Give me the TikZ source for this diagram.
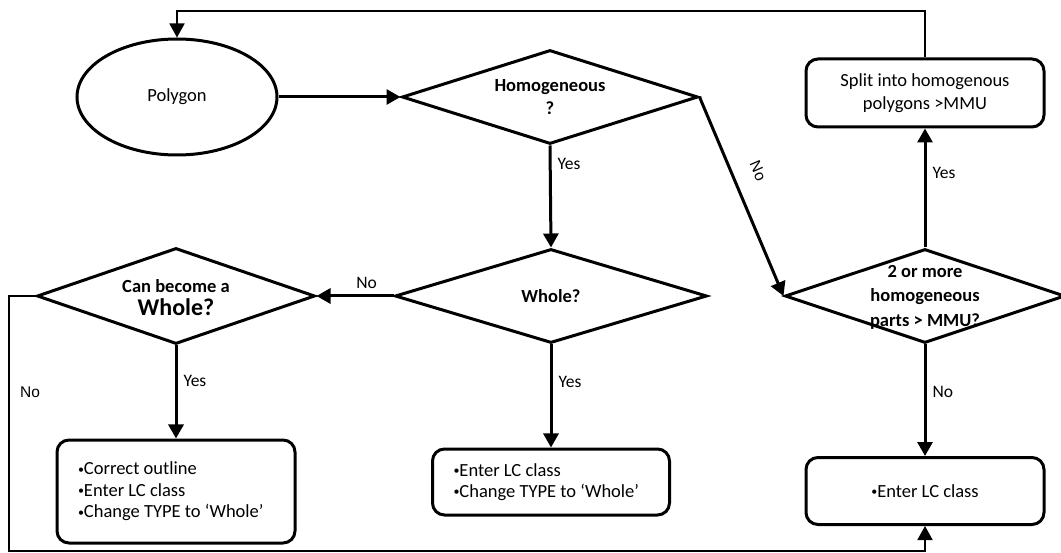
\documentclass[tikz,border=0pt]{standalone}
\usepackage{fontspec}
\setmainfont{Carlito}
\newfontfamily\arialf{Liberation Sans}
\usetikzlibrary{shapes.geometric,arrows.meta}
\newcommand\bul{\raisebox{0.2ex}{\fontsize{12}{12}\selectfont•}}
\begin{document}
\begin{tikzpicture}[x=1pt,y=-1pt,
  thickln/.style={line width=3pt},
  thinln/.style={line width=1.8pt},
  arr/.style={-{Triangle[length=14pt,width=15pt]}},
  dia/.style={draw, diamond, line width=3pt, inner sep=0pt},
  rbox/.style={draw, rectangle, rounded corners=12pt, line width=3pt, inner sep=0pt},
  lbl/.style={font=\fontsize{17.5}{20}\selectfont, inner sep=0pt},
  nolbl/.style={font=\arialf\fontsize{15.5}{18}\selectfont, inner sep=0pt},
  qtext/.style={font=\bfseries\fontsize{18.5}{23}\selectfont, align=center},
  btext/.style={font=\fontsize{18.5}{21.5}\selectfont, align=flush left},
]
\useasboundingbox (0,0) rectangle (1061,553);

% nodes
\node[draw, ellipse, line width=3pt, minimum width=200pt, minimum height=116pt, inner sep=0pt,
      font=\fontsize{18.5}{22}\selectfont] (poly) at (177,97) {Polygon};
\node[dia, minimum width=296pt, minimum height=94pt,
      label={[qtext]center:{Homogeneous\\?}}] (hom) at (550,97) {};
\node[dia, minimum width=312pt, minimum height=94pt,
      label={[qtext]center:{Whole?}}] (whole) at (551,296) {};
\node[dia, minimum width=278pt, minimum height=96pt,
      label={[qtext, yshift=-2pt]center:{Can become a\\{\fontsize{24}{26}\selectfont Whole?}}}] (can) at (176,296) {};
\node[dia, minimum width=280pt, minimum height=94pt,
      label={[qtext, font=\bfseries\fontsize{18.5}{24.5}\selectfont, yshift=-1pt]center:{2 or more\\homogeneous\\parts > MMU?}}] (two) at (925,296) {};
\node[rbox, minimum width=238pt, minimum height=68pt, align=center,
      font=\fontsize{18.5}{23}\selectfont] (split) at (925,93) {Split into homogenous\\polygons >MMU};
\node[rbox, minimum width=238pt, minimum height=67pt, btext] (enterR) at (925,491) {\bul Enter LC class};
\node[rbox, minimum width=238pt, minimum height=103pt, btext, text width=196pt, inner xsep=21pt]
  (boxL) at (176,491.5)
  {\bul Correct outline\\\bul Enter LC class\\\bul Change TYPE to ‘Whole’\\[3pt]};
\node[rbox, minimum width=237pt, minimum height=66pt, btext, text width=195pt, inner xsep=21pt]
  (boxM) at (551,482)
  {\bul Enter LC class\\\bul Change TYPE to ‘Whole’};

% helper coordinates
\coordinate (topR) at (925,11);
\coordinate (topL) at (177,11);
\coordinate (botL) at (9,551);
\coordinate (botR) at (925,551);

% connectors
\draw[thickln, arr] (poly.east) -- (hom.west);
\draw[thickln, arr] (hom.south) -- node[pos=0.18, right=6pt, lbl] {Yes} (whole.north);
\draw[thickln, arr] (hom.east) -- (two.west);
\node[nolbl, rotate=-66.7] (nolab) at (758,171) {No};
\draw[thickln, arr] (whole.west) -- node[pos=0.35, above=6pt, lbl] {No} (can.east);
\draw[thickln, arr] (can.south) -- node[pos=0.38, right=6pt, lbl] {Yes} (boxL.north);
\draw[thickln, arr] (whole.south) -- node[pos=0.36, right=6pt, lbl] {Yes} (boxM.north);
\draw[thickln, arr] (two.south) -- node[pos=0.43, right=6pt, lbl] {No} (enterR.north);
\draw[thickln, arr] (two.north) -- node[pos=0.63, right=6pt, lbl] {Yes} (split.south);
\draw[thinln, arr] (split.north) -- (topR) -- (topL) -- (poly.north);
\draw[thinln, arr] (can.west) -- (can.west -| botL) -- (botL) -- (botR) -- (enterR.south);
\node[nolbl] (noL) at (30,392) {No};
\end{tikzpicture}
\end{document}
